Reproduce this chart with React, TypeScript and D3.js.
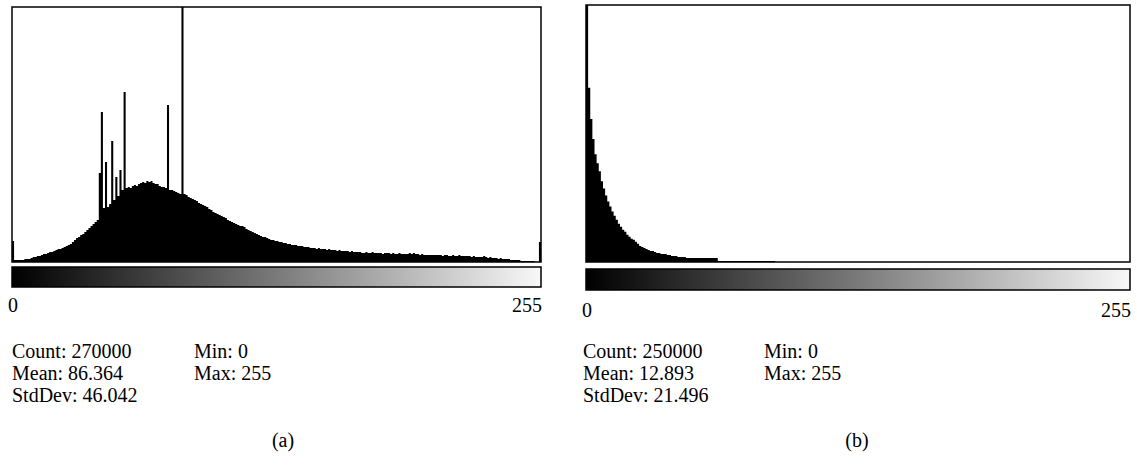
import React from "react";
import * as d3 from "d3";

// histogram bin heights (0..255, relative to the tallest bin)
const binsA = [
  21, 2, 2, 2, 2, 2, 3, 3, 3, 4, 5, 5, 6, 6, 7, 8,
  8, 9, 10, 10, 11, 12, 13, 13, 14, 15, 16, 17, 18, 20, 22, 24,
  25, 27, 28, 30, 32, 34, 36, 38, 40, 42, 89, 150, 54, 100, 55, 58,
  121, 62, 85, 66, 92, 72, 170, 74, 75, 74, 76, 77, 76, 78, 79, 80,
  79, 81, 80, 81, 79, 78, 78, 76, 75, 75, 74, 157, 72, 72, 71, 70,
  69, 68, 255, 68, 67, 65, 64, 63, 62, 61, 59, 58, 57, 56, 55, 53,
  52, 50, 49, 48, 47, 46, 45, 44, 42, 41, 40, 39, 38, 37, 36, 36,
  35, 33, 32, 31, 30, 29, 28, 27, 26, 25, 25, 24, 23, 22, 22, 21,
  21, 20, 20, 19, 19, 18, 18, 17, 17, 17, 16, 16, 16, 15, 15, 15,
  14, 14, 14, 13, 14, 13, 13, 13, 12, 13, 12, 12, 12, 11, 12, 11,
  11, 11, 11, 10, 11, 10, 10, 10, 10, 9, 9, 10, 9, 9, 10, 9,
  9, 9, 9, 8, 9, 9, 9, 8, 9, 8, 8, 9, 8, 8, 8, 8,
  9, 8, 9, 8, 8, 7, 8, 7, 7, 7, 7, 7, 7, 7, 7, 7,
  6, 7, 7, 6, 6, 7, 6, 6, 7, 6, 6, 6, 6, 6, 5, 6,
  5, 5, 5, 5, 6, 5, 4, 5, 4, 4, 4, 3, 4, 3, 3, 3,
  3, 2, 2, 2, 2, 2, 1, 1, 1, 1, 1, 1, 1, 0, 0, 20,
];

const binsB = [
  255, 173, 142, 122, 107, 98, 90, 80, 73, 66, 60, 55, 50, 46, 42, 38,
  35, 32, 30, 27, 25, 23, 22, 20, 18, 16, 15, 14, 13, 12, 11, 11,
  10, 9, 9, 8, 8, 8, 7, 7, 6, 6, 6, 5, 5, 5, 5, 4,
  4, 4, 4, 4, 4, 4, 4, 4, 4, 4, 4, 4, 4, 4, 1, 1,
  1, 1, 1, 1, 1, 1, 1, 1, 1, 1, 1, 1, 1, 1, 1, 1,
  1, 1, 1, 1, 1, 1, 1, 1, 1, 0, 0, 0, 0, 0, 0, 0,
  0, 0, 0, 0, 0, 0, 0, 0, 0, 0, 0, 0, 0, 0, 0, 0,
  0, 0, 0, 0, 0, 0, 0, 0, 0, 0, 0, 0, 0, 0, 0, 0,
  0, 0, 0, 0, 0, 0, 0, 0, 0, 0, 0, 0, 0, 0, 0, 0,
  0, 0, 0, 0, 0, 0, 0, 0, 0, 0, 0, 0, 0, 0, 0, 0,
  0, 0, 0, 0, 0, 0, 0, 0, 0, 0, 0, 0, 0, 0, 0, 0,
  0, 0, 0, 0, 0, 0, 0, 0, 0, 0, 0, 0, 0, 0, 0, 0,
  0, 0, 0, 0, 0, 0, 0, 0, 0, 0, 0, 0, 0, 0, 0, 0,
  0, 0, 0, 0, 0, 0, 0, 0, 0, 0, 0, 0, 0, 0, 0, 0,
  0, 0, 0, 0, 0, 0, 0, 0, 0, 0, 0, 0, 0, 0, 0, 0,
  0, 0, 0, 0, 0, 0, 0, 0, 0, 0, 0, 0, 0, 0, 0, 0,
];

const statsA = ["Count: 270000", "Mean: 86.364", "StdDev: 46.042"];
const statsB = ["Count: 250000", "Mean: 12.893", "StdDev: 21.496"];
const rangeA = ["Min: 0", "Max: 255"];
const rangeB = ["Min: 0", "Max: 255"];
const axisLabels = ["0", "255"];

const FONT = "'Liberation Serif', 'Times New Roman', serif";
const FS = 20;

type PanelProps = {
  bins: number[];
  stats: string[];
  range: string[];
  caption: string;
  left: number;
  right: number;
  top: number;
  bottom: number;
  barTop: number;
  barH: number;
  labelY: number;
  textX: number;
  col2X: number;
  captionX: number;
  id: string;
};

function Panel(p: PanelProps) {
  const x = d3.scaleLinear().domain([0, 256]).range([p.left, p.right]);
  const y = d3.scaleLinear().domain([0, 255]).range([p.bottom, p.top]);

  const pts = p.bins.map((v, i) => [i, v] as [number, number]);
  pts.push([256, p.bins[p.bins.length - 1]]);
  const area = d3
    .area<[number, number]>()
    .x((d) => x(d[0]))
    .y0(p.bottom)
    .y1((d) => y(d[1]))
    .curve(d3.curveStepAfter);

  return (
    <g>
      <defs>
        <linearGradient id={p.id} x1="0" x2="1" y1="0" y2="0">
          <stop offset="0%" stopColor="#000" />
          <stop offset="50%" stopColor="#7a7a7a" />
          <stop offset="100%" stopColor="#f8f8f8" />
        </linearGradient>
      </defs>
      <rect x={p.left} y={p.top} width={p.right - p.left} height={p.bottom - p.top} fill="#fff" />
      <path d={area(pts) || ""} fill="#000" />
      <rect
        x={p.left}
        y={p.top}
        width={p.right - p.left}
        height={p.bottom - p.top}
        fill="none"
        stroke="#000"
        strokeWidth={1.5}
      />
      <rect
        x={p.left}
        y={p.barTop}
        width={p.right - p.left}
        height={p.barH}
        fill={`url(#${p.id})`}
        stroke="#000"
        strokeWidth={1.5}
      />
      <text x={p.left - 4} y={p.labelY} fontSize={FS} fontFamily={FONT}>
        {axisLabels[0]}
      </text>
      <text x={p.right + 1} y={p.labelY} fontSize={FS} fontFamily={FONT} textAnchor="end">
        {axisLabels[1]}
      </text>
      {p.stats.map((s, i) => (
        <text key={s} x={p.textX} y={358 + i * 22} fontSize={FS} fontFamily={FONT}>
          {s}
        </text>
      ))}
      {p.range.map((s, i) => (
        <text key={s} x={p.col2X} y={358 + i * 22} fontSize={FS} fontFamily={FONT}>
          {s}
        </text>
      ))}
      <text x={p.captionX} y={447} fontSize={FS} fontFamily={FONT} textAnchor="middle">
        {p.caption}
      </text>
    </g>
  );
}

export default function App() {
  return (
    <svg
      width={1137}
      height={474}
      style={{ position: "absolute", left: 0, top: 0, background: "#fff" }}
    >
      <rect width={1137} height={474} fill="#fff" />
      <Panel
        id="gA"
        bins={binsA}
        stats={statsA}
        range={rangeA}
        caption="(a)"
        left={12}
        right={541}
        top={7}
        bottom={262}
        barTop={267}
        barH={20}
        labelY={312}
        textX={12}
        col2X={194}
        captionX={283}
      />
      <Panel
        id="gB"
        bins={binsB}
        stats={statsB}
        range={rangeB}
        caption="(b)"
        left={586}
        right={1130}
        top={5}
        bottom={262}
        barTop={269}
        barH={21}
        labelY={317}
        textX={583}
        col2X={764}
        captionX={857}
      />
    </svg>
  );
}
